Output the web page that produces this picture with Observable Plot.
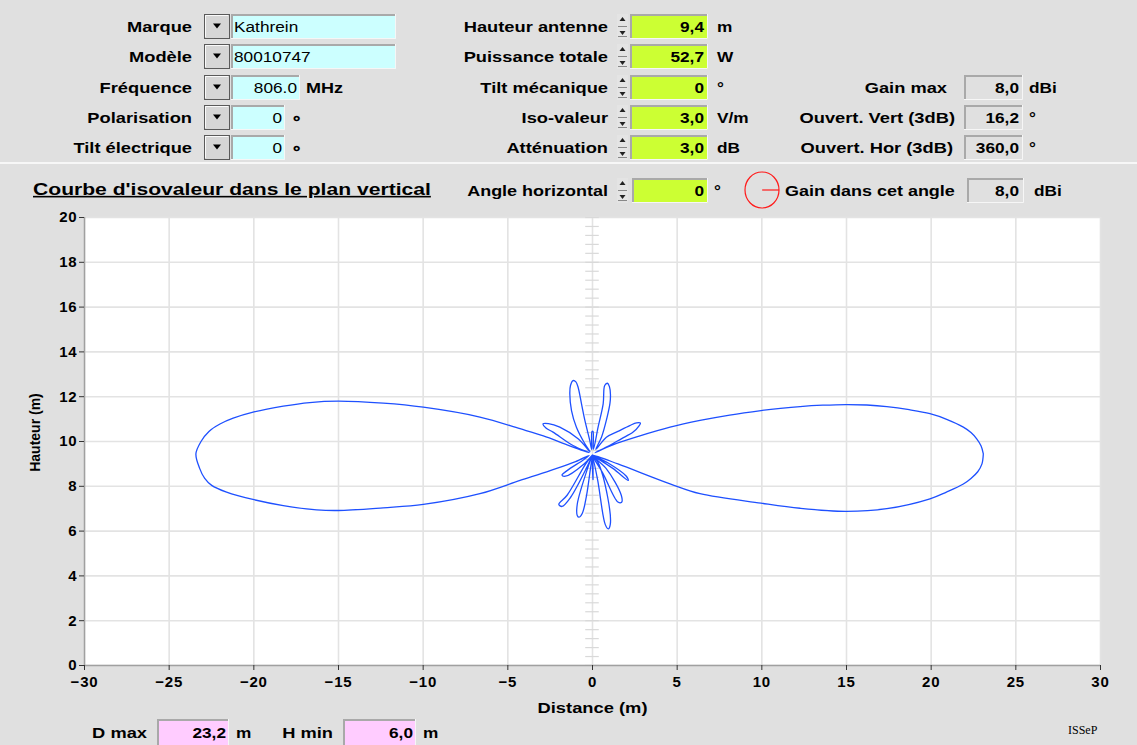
<!DOCTYPE html>
<html><head><meta charset="utf-8">
<script src="https://cdn.jsdelivr.net/npm/d3@7"></script>
<script src="https://cdn.jsdelivr.net/npm/@observablehq/plot@0.6"></script>
<style>
html,body{margin:0;padding:0;background:#e0e0e0;}
#root{position:relative;width:1137px;height:745px;overflow:hidden;background:#e0e0e0;font-family:"Liberation Sans",Arial,sans-serif;}
#chart{position:absolute;left:0;top:200px;}
#ui{position:absolute;left:0;top:0;}
#chart g[aria-label="x-axis tick label"] text, #chart g[aria-label="y-axis tick label"] text{letter-spacing:0.8px;}
</style></head>
<body><div id="root"><div id="chart"></div><svg id="ui" width="1137" height="745"></svg></div>
<script>
// ---------- data ----------
const leftLabels = ["Marque","Modèle","Fréquence","Polarisation","Tilt électrique"];
const leftValues = ["Kathrein","80010747","806.0","0","0"];
const leftUnits  = ["","","MHz","∘","∘"];
const midLabels  = ["Hauteur antenne","Puissance totale","Tilt mécanique","Iso-valeur","Atténuation"];
const midValues  = ["9,4","52,7","0","3,0","3,0"];
const midUnits   = ["m","W","°","V/m","dB"];
const rightLabels = ["Gain max","Ouvert. Vert (3dB)","Ouvert. Hor (3dB)"];
const rightValues = ["8,0","16,2","360,0"];
const rightUnits  = ["dBi","°","°"];
const chartTitle = "Courbe d'isovaleur dans le plan vertical";
const angleLabel = "Angle horizontal", angleValue = "0", angleUnit = "°";
const gainAngleLabel = "Gain dans cet angle", gainAngleValue = "8,0", gainAngleUnit = "dBi";
const bottomLabels = ["D max","H min"];
const bottomValues = ["23,2","6,0"];
const bottomUnits  = ["m","m"];
const xTicks = [-30,-25,-20,-15,-10,-5,0,5,10,15,20,25,30];
const yTicks = [0,2,4,6,8,10,12,14,16,18,20];
const xLabel = "Distance (m)", yLabel = "Hauteur (m)";

// isovalue curve, traced around the antenna (x: distance m, y: height m)
const curveX = [23.08,22.95,22.69,22.35,21.9,20.95,19.93,18.7,17.38,16.2,14.97,13.6,12.26,11.1,9.95,8.1,6.35,4.58,2.8,1.2,0.15,
  1.0,1.7,2.4,2.75,2.83,2.6,2.2,1.5,0.82,0.2,
  0.53,0.86,1.03,1.06,1.0,0.88,0.72,0.63,0.33,0.05,
  0.03,-0.03,-0.05,
  -0.16,-0.45,-0.65,-0.85,-0.98,-1.15,-1.3,-1.34,-1.24,-0.95,-0.45,-0.15,
  -0.85,-1.93,-2.6,-2.92,-2.75,-2.33,-1.15,-0.2,
  -1.5,-2.9,-4.28,-6.65,-9.99,-12.36,-15.01,-16.7,-18.26,-19.99,-21.22,-22.0,-22.65,-23.12,-23.42,
  -23.2,-22.9,-22.49,-21.61,-19.99,-18.26,-16.29,-15.01,-12.36,-9.99,-6.65,-4.28,-2.5,-1.0,-0.2,
  -0.5,-1.5,-1.8,-1.6,-0.5,0,
  -0.4,-1.5,-1.99,-1.8,-1.3,-0.3,0,
  -0.2,-0.9,-0.9,-0.8,-0.6,-0.35,0,
  0.03,0,
  0.3,0.75,0.93,1.05,0.9,0.3,0,
  0.6,1.5,1.72,1.7,0.8,0,
  1.2,2.11,2.0,0.9,0,
  1.5,4.58,6.35,9.95,12.26,14.97,17.38,19.93,20.9,21.9,22.35,22.75,23.0,23.08];
const curveY = [9.45,9.8,10.12,10.4,10.64,10.98,11.24,11.42,11.56,11.63,11.65,11.62,11.56,11.48,11.38,11.18,10.94,10.64,10.25,9.85,9.5,
  9.82,10.12,10.42,10.7,10.82,10.83,10.71,10.45,10.19,9.65,
  10.19,11.08,11.7,12.1,12.45,12.6,12.5,11.68,10.64,9.65,
  10.45,10.45,9.65,
  10.04,10.94,11.68,12.42,12.66,12.72,12.5,12.13,11.38,10.64,9.9,9.55,
  10.12,10.64,10.8,10.79,10.6,10.42,9.82,9.5,
  9.85,10.25,10.57,11.09,11.53,11.71,11.8,11.74,11.58,11.32,11.04,10.78,10.45,10.0,9.45,
  8.8,8.35,8.04,7.74,7.4,7.14,6.95,6.92,7.04,7.19,7.67,8.26,8.7,9.1,9.38,
  9.2,8.7,8.5,8.45,9.0,9.4,
  9.0,7.6,7.19,7.1,7.5,8.9,9.4,
  9.0,7.2,6.7,6.62,6.8,7.6,9.3,
  8.3,9.3,
  8.3,6.3,6.1,6.3,7.5,9.1,9.35,
  8.6,7.3,7.29,7.6,8.8,9.35,
  8.8,8.26,8.45,9.05,9.4,
  9.0,8.11,7.67,7.25,7.02,6.88,7.0,7.44,7.74,8.1,8.35,8.65,9.0,9.45];
const curve = curveX.map((x, i) => ({x, y: curveY[i]}));
const minorTicks = d3.range(0, 20.001, 0.4);

// ---------- chart ----------
const chart = Plot.plot({
  width: 1137, height: 530,
  marginLeft: 84, marginRight: 37, marginTop: 17, marginBottom: 65,
  style: {background: "transparent", fontFamily: "Liberation Sans, Arial, sans-serif", fontSize: "15px", color: "#000"},
  x: {domain: [-30, 30]},
  y: {domain: [0, 20]},
  marks: [
    Plot.frame({fill: "white", stroke: "none"}),
    Plot.gridX(xTicks, {stroke: "#e3e3e3", strokeOpacity: 1, strokeWidth: 1.6}),
    Plot.gridY(yTicks, {stroke: "#e3e3e3", strokeOpacity: 1, strokeWidth: 1.6}),
    Plot.ruleY(minorTicks, {y: d => d, x1: -0.4, x2: 0.4, stroke: "#d9d9d9", strokeWidth: 1.2}),
    Plot.line(curve, {x: "x", y: "y", stroke: "#1e50ff", strokeWidth: 1.3, curve: "catmull-rom"}),
    Plot.ruleX([-30], {stroke: "#a0a0a0", strokeWidth: 1.5}),
    Plot.ruleY([0], {stroke: "#a0a0a0", strokeWidth: 1.5}),
    Plot.axisX(xTicks, {tickSize: 5, tickPadding: 6, fontWeight: "bold", fontSize: 15, label: null, stroke: "#333"}),
    Plot.axisY(yTicks, {tickSize: 5, tickPadding: 2, fontWeight: "bold", fontSize: 15, label: null, stroke: "#333"}),
    Plot.text([xLabel], {frameAnchor: "bottom", dy: 47, text: d => d, fontWeight: "bold", fontSize: 15}),
    Plot.text([yLabel], {frameAnchor: "left", textAnchor: "middle", dx: -49, dy: -9, rotate: -90, text: d => d, fontWeight: "bold", fontSize: 14})
  ]
});
document.getElementById("chart").appendChild(chart);
// stretch x axis title to the reference width
chart.querySelectorAll("text").forEach(t => {
  if (t.textContent === xLabel) { t.setAttribute("textLength", 110); t.setAttribute("lengthAdjust", "spacingAndGlyphs"); }
});

// ---------- UI panel ----------
const NS = "http://www.w3.org/2000/svg";
const ui = document.getElementById("ui");
function el(tag, attrs) { const e = document.createElementNS(NS, tag); for (const k in attrs) e.setAttribute(k, attrs[k]); ui.appendChild(e); return e; }
function txt(x, y, s, o = {}) {
  const t = el("text", {
    transform: `translate(${x},${y}) scale(${o.sx ?? 1.22},1)`,
    "text-anchor": o.anchor || "start",
    "font-size": o.size || 15,
    "font-weight": o.bold === false ? "normal" : "bold",
    fill: o.fill || "#000",
    "font-family": o.family || "Liberation Sans, Arial, sans-serif"
  });
  if (o.underline) t.setAttribute("text-decoration", "underline");
  t.textContent = s; return t;
}
function field(x, y, w, h, fill) {
  el("rect", {x, y, width: w, height: h, fill});
  el("path", {d: `M${x+1},${y+h}V${y+1}H${x+w}`, stroke: "#a9a9a9", "stroke-width": 2, fill: "none"});
  el("path", {d: `M${x},${y+h-0.5}H${x+w-0.5}V${y}`, stroke: "#f6f6f6", "stroke-width": 1, fill: "none"});
}
function dropBtn(x, y, w, h) {
  el("rect", {x: x+0.5, y: y+0.5, width: w-1, height: h-1, fill: "#d6d6d6", stroke: "#5a5a5a"});
  el("path", {d: `M${x+1.5},${y+h-2}V${y+1.5}H${x+w-2}`, stroke: "#fafafa", fill: "none"});
  const cx = x + w/2, cy = y + h/2;
  el("path", {d: `M${cx-4},${cy-3}H${cx+4}L${cx},${cy+2}Z`, fill: "#000"});
}
function spinner(x, y, h) {
  el("rect", {x, y, width: 11, height: h, fill: "#e4e4e4"});
  el("path", {d: `M${x+2.5},${y+7}L${x+5.5},${y+3}L${x+8.5},${y+7}Z`, fill: "#222"});
  el("path", {d: `M${x+2.5},${y+h-8}L${x+5.5},${y+h-4}L${x+8.5},${y+h-8}Z`, fill: "#222"});
  el("path", {d: `M${x+1},${y+h/2}H${x+10}M${x+1},${y+h-2.5}H${x+10}`, stroke: "#888", fill: "none"});
}

// separator
el("rect", {x: 0, y: 162, width: 1137, height: 2, fill: "#f7f7f7"});

const rowY = [26, 56, 87, 117, 147];
const leftW = [165, 165, 69, 54, 54];
leftLabels.forEach((s, i) => {
  const yc = rowY[i];
  txt(192, yc + 5.5, s, {anchor: "end"});
  dropBtn(204, yc - 12, 26, 25);
  field(231, yc - 12, leftW[i], 25, "#ccffff");
  if (i < 2) txt(234, yc + 5.5, leftValues[i], {bold: false, sx: 1.15});
  else txt(231 + leftW[i] - 3, yc + 5.5, leftValues[i], {anchor: "end", bold: false, sx: 1.15});
  if (leftUnits[i]) txt(231 + leftW[i] + 6, yc + 5.5, leftUnits[i], {sx: 1.2});
});
midLabels.forEach((s, i) => {
  const yc = rowY[i];
  txt(608, yc + 5.5, s, {anchor: "end"});
  spinner(617, yc - 12, 25);
  field(630, yc - 12, 78, 25, "#ccff33");
  txt(704, yc + 5.5, midValues[i], {anchor: "end", sx: 1.15});
  txt(717, yc + 5.5, midUnits[i], {sx: 1.15});
});
const rightEnd = [947, 955, 953];
rightLabels.forEach((s, i) => {
  const yc = rowY[i + 2];
  txt(rightEnd[i], yc + 5.5, s, {anchor: "end"});
  field(964, yc - 12, 59, 25, "#e0e0e0");
  txt(1019, yc + 5.5, rightValues[i], {anchor: "end", sx: 1.15});
  txt(1029, yc + 5.5, rightUnits[i], {sx: 1.15});
});

// title row
txt(33, 195, chartTitle, {size: 16, sx: 1.32, underline: true});
txt(608, 195.5, angleLabel, {anchor: "end", sx: 1.2});
spinner(617, 178, 25);
field(632, 178, 76, 25, "#ccff33");
txt(704, 195.5, angleValue, {anchor: "end", sx: 1.15});
txt(714, 195.5, angleUnit, {sx: 1.15});
el("ellipse", {cx: 762, cy: 190, rx: 17, ry: 18, fill: "none", stroke: "#ff1a1a", "stroke-width": 1.2});
el("line", {x1: 762, y1: 190, x2: 779, y2: 190, stroke: "#ff1a1a", "stroke-width": 1.2});
txt(785, 195.5, gainAngleLabel, {sx: 1.2});
field(967, 178, 57, 25, "#e0e0e0");
txt(1019, 195.5, gainAngleValue, {anchor: "end", sx: 1.15});
txt(1034, 195.5, gainAngleUnit, {sx: 1.15});

// bottom row
const bLabelEnd = [147, 333], bFieldX = [157, 343], bFieldW = [72, 73];
bottomLabels.forEach((s, i) => {
  txt(bLabelEnd[i], 737.5, s, {anchor: "end"});
  field(bFieldX[i], 719, bFieldW[i], 30, "#ffccff");
  txt(bFieldX[i] + bFieldW[i] - 3, 737.5, bottomValues[i], {anchor: "end", sx: 1.15});
  txt(bFieldX[i] + bFieldW[i] + 7, 737.5, bottomUnits[i], {sx: 1.15});
});
txt(1068, 734, "ISSeP", {bold: false, size: 12, sx: 1, family: "Liberation Serif, Times New Roman, serif"});
</script></body></html>
